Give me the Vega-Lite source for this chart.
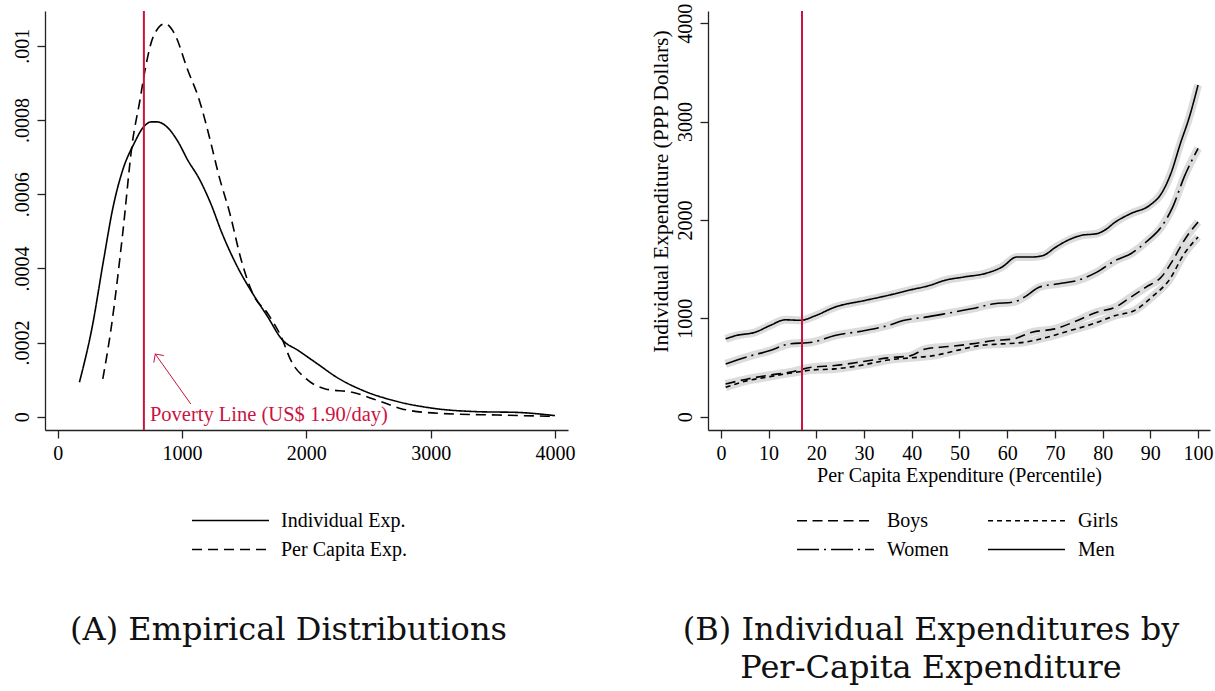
{
  "$schema": "https://vega.github.io/schema/vega-lite/v6.json",
  "background": "white",
  "padding": {"left": 12, "top": 3, "right": 5, "bottom": 5},
  "spacing": 75,
  "resolve": {
    "scale": {"strokeDash": "independent", "strokeWidth": "independent"},
    "legend": {"strokeDash": "independent", "strokeWidth": "independent"}
  },
  "config": {
    "view": {"stroke": null},
    "font": "Liberation Serif",
    "axis": {
      "grid": false, "domainColor": "#222", "tickColor": "#222", "domainWidth": 1.3, "tickWidth": 1.3,
      "tickSize": 8, "labelFont": "Liberation Serif", "labelFontSize": 20, "labelColor": "#000",
      "titleFont": "Liberation Serif", "titleFontSize": 20, "titleFontWeight": "normal", "titleColor": "#000",
      "labelPadding": 5, "labelFlush": false, "labelOverlap": false
    },
    "legend": {"labelFont": "Liberation Serif", "labelFontSize": 20, "labelColor": "#000", "padding": 0}
  },
  "datasets": {
    "dens": [
      {"x": 175, "y": 0.000093, "series": "Individual Exp."},
      {"x": 277, "y": 0.000241, "series": "Individual Exp."},
      {"x": 369, "y": 0.000422, "series": "Individual Exp."},
      {"x": 446, "y": 0.000566, "series": "Individual Exp."},
      {"x": 523, "y": 0.000665, "series": "Individual Exp."},
      {"x": 615, "y": 0.000737, "series": "Individual Exp."},
      {"x": 692, "y": 0.000782, "series": "Individual Exp."},
      {"x": 754, "y": 0.000795, "series": "Individual Exp."},
      {"x": 800, "y": 0.000795, "series": "Individual Exp."},
      {"x": 892, "y": 0.000777, "series": "Individual Exp."},
      {"x": 969, "y": 0.000741, "series": "Individual Exp."},
      {"x": 1046, "y": 0.000692, "series": "Individual Exp."},
      {"x": 1138, "y": 0.000642, "series": "Individual Exp."},
      {"x": 1231, "y": 0.000575, "series": "Individual Exp."},
      {"x": 1323, "y": 0.000494, "series": "Individual Exp."},
      {"x": 1446, "y": 0.000404, "series": "Individual Exp."},
      {"x": 1569, "y": 0.000332, "series": "Individual Exp."},
      {"x": 1692, "y": 0.000268, "series": "Individual Exp."},
      {"x": 1800, "y": 0.000210, "series": "Individual Exp."},
      {"x": 1938, "y": 0.000178, "series": "Individual Exp."},
      {"x": 2092, "y": 0.000142, "series": "Individual Exp."},
      {"x": 2246, "y": 0.000106, "series": "Individual Exp."},
      {"x": 2461, "y": 0.000070, "series": "Individual Exp."},
      {"x": 2708, "y": 0.000043, "series": "Individual Exp."},
      {"x": 3015, "y": 0.000023, "series": "Individual Exp."},
      {"x": 3385, "y": 0.0000135, "series": "Individual Exp."},
      {"x": 3692, "y": 0.0000117, "series": "Individual Exp."},
      {"x": 4000, "y": 0.000003, "series": "Individual Exp."},
      {"x": 363, "y": 0.000102, "series": "Per Capita Exp."},
      {"x": 431, "y": 0.000241, "series": "Per Capita Exp."},
      {"x": 523, "y": 0.000494, "series": "Per Capita Exp."},
      {"x": 600, "y": 0.000737, "series": "Per Capita Exp."},
      {"x": 662, "y": 0.000854, "series": "Per Capita Exp."},
      {"x": 708, "y": 0.000944, "series": "Per Capita Exp."},
      {"x": 769, "y": 0.001025, "series": "Per Capita Exp."},
      {"x": 862, "y": 0.00106, "series": "Per Capita Exp."},
      {"x": 938, "y": 0.001034, "series": "Per Capita Exp."},
      {"x": 1046, "y": 0.000935, "series": "Per Capita Exp."},
      {"x": 1138, "y": 0.000855, "series": "Per Capita Exp."},
      {"x": 1231, "y": 0.00074, "series": "Per Capita Exp."},
      {"x": 1292, "y": 0.000656, "series": "Per Capita Exp."},
      {"x": 1385, "y": 0.000548, "series": "Per Capita Exp."},
      {"x": 1477, "y": 0.000422, "series": "Per Capita Exp."},
      {"x": 1569, "y": 0.000332, "series": "Per Capita Exp."},
      {"x": 1692, "y": 0.000277, "series": "Per Capita Exp."},
      {"x": 1800, "y": 0.000214, "series": "Per Capita Exp."},
      {"x": 1877, "y": 0.000151, "series": "Per Capita Exp."},
      {"x": 2000, "y": 0.000102, "series": "Per Capita Exp."},
      {"x": 2154, "y": 0.000075, "series": "Per Capita Exp."},
      {"x": 2369, "y": 0.000066, "series": "Per Capita Exp."},
      {"x": 2615, "y": 0.000039, "series": "Per Capita Exp."},
      {"x": 2769, "y": 0.000021, "series": "Per Capita Exp."},
      {"x": 3077, "y": 0.000009, "series": "Per Capita Exp."},
      {"x": 3538, "y": 0.0000045, "series": "Per Capita Exp."},
      {"x": 4000, "y": 0.000001, "series": "Per Capita Exp."}
    ],
    "exp": [
      {"p": 1, "v": 791, "g": "Men"}, {"p": 3.2, "v": 825, "g": "Men"}, {"p": 7.2, "v": 859, "g": "Men"},
      {"p": 10.3, "v": 927, "g": "Men"}, {"p": 13.5, "v": 985, "g": "Men"}, {"p": 16.7, "v": 980, "g": "Men"},
      {"p": 19.9, "v": 1029, "g": "Men"}, {"p": 23.9, "v": 1114, "g": "Men"}, {"p": 30.2, "v": 1182, "g": "Men"},
      {"p": 35, "v": 1233, "g": "Men"}, {"p": 39.8, "v": 1290, "g": "Men"}, {"p": 43.8, "v": 1335, "g": "Men"},
      {"p": 46.9, "v": 1386, "g": "Men"}, {"p": 50.9, "v": 1420, "g": "Men"}, {"p": 55.7, "v": 1460, "g": "Men"},
      {"p": 58.9, "v": 1521, "g": "Men"}, {"p": 62, "v": 1623, "g": "Men"}, {"p": 65.2, "v": 1623, "g": "Men"},
      {"p": 67.6, "v": 1640, "g": "Men"}, {"p": 70, "v": 1718, "g": "Men"}, {"p": 72.4, "v": 1786, "g": "Men"},
      {"p": 75.6, "v": 1844, "g": "Men"}, {"p": 78.8, "v": 1861, "g": "Men"}, {"p": 80.4, "v": 1895, "g": "Men"},
      {"p": 82.7, "v": 1980, "g": "Men"}, {"p": 85.9, "v": 2065, "g": "Men"}, {"p": 89.9, "v": 2150, "g": "Men"},
      {"p": 92.3, "v": 2268, "g": "Men"}, {"p": 94.3, "v": 2472, "g": "Men"}, {"p": 96.3, "v": 2778, "g": "Men"},
      {"p": 98.2, "v": 3050, "g": "Men"}, {"p": 100, "v": 3372, "g": "Men"},
      {"p": 1, "v": 537, "g": "Women"}, {"p": 6.4, "v": 621, "g": "Women"}, {"p": 10.3, "v": 672, "g": "Women"},
      {"p": 14.3, "v": 740, "g": "Women"}, {"p": 19.1, "v": 757, "g": "Women"}, {"p": 23.9, "v": 825, "g": "Women"},
      {"p": 30.2, "v": 876, "g": "Women"}, {"p": 35, "v": 927, "g": "Women"}, {"p": 38.2, "v": 978, "g": "Women"},
      {"p": 42.9, "v": 1012, "g": "Women"}, {"p": 46.9, "v": 1046, "g": "Women"}, {"p": 52.5, "v": 1097, "g": "Women"},
      {"p": 57.3, "v": 1148, "g": "Women"}, {"p": 61.3, "v": 1165, "g": "Women"}, {"p": 63.6, "v": 1216, "g": "Women"},
      {"p": 66.8, "v": 1318, "g": "Women"}, {"p": 70.8, "v": 1352, "g": "Women"}, {"p": 74.8, "v": 1386, "g": "Women"},
      {"p": 78.8, "v": 1470, "g": "Women"}, {"p": 82.7, "v": 1589, "g": "Women"}, {"p": 85.9, "v": 1657, "g": "Women"},
      {"p": 89.1, "v": 1776, "g": "Women"}, {"p": 92.3, "v": 1929, "g": "Women"}, {"p": 94.7, "v": 2133, "g": "Women"},
      {"p": 97.1, "v": 2438, "g": "Women"}, {"p": 100, "v": 2727, "g": "Women"},
      {"p": 1, "v": 333, "g": "Boys"}, {"p": 5.6, "v": 384, "g": "Boys"}, {"p": 9.5, "v": 418, "g": "Boys"},
      {"p": 14.3, "v": 452, "g": "Boys"}, {"p": 19.1, "v": 503, "g": "Boys"}, {"p": 23.9, "v": 520, "g": "Boys"},
      {"p": 30.2, "v": 564, "g": "Boys"}, {"p": 35, "v": 598, "g": "Boys"}, {"p": 39.8, "v": 621, "g": "Boys"},
      {"p": 42.9, "v": 689, "g": "Boys"}, {"p": 47.7, "v": 713, "g": "Boys"}, {"p": 52.5, "v": 740, "g": "Boys"},
      {"p": 57.3, "v": 774, "g": "Boys"}, {"p": 61.3, "v": 791, "g": "Boys"}, {"p": 65.2, "v": 859, "g": "Boys"},
      {"p": 70, "v": 893, "g": "Boys"}, {"p": 73.9, "v": 961, "g": "Boys"}, {"p": 78.8, "v": 1063, "g": "Boys"},
      {"p": 82.7, "v": 1114, "g": "Boys"}, {"p": 85.9, "v": 1216, "g": "Boys"}, {"p": 89.1, "v": 1318, "g": "Boys"},
      {"p": 92.3, "v": 1420, "g": "Boys"}, {"p": 94.7, "v": 1589, "g": "Boys"}, {"p": 97.1, "v": 1793, "g": "Boys"},
      {"p": 100, "v": 1980, "g": "Boys"},
      {"p": 1, "v": 299, "g": "Girls"}, {"p": 5.6, "v": 367, "g": "Girls"}, {"p": 9.5, "v": 401, "g": "Girls"},
      {"p": 14.3, "v": 441, "g": "Girls"}, {"p": 19.1, "v": 475, "g": "Girls"}, {"p": 23.9, "v": 486, "g": "Girls"},
      {"p": 30.2, "v": 530, "g": "Girls"}, {"p": 35, "v": 577, "g": "Girls"}, {"p": 39.8, "v": 598, "g": "Girls"},
      {"p": 44.6, "v": 621, "g": "Girls"}, {"p": 49.3, "v": 672, "g": "Girls"}, {"p": 54.1, "v": 723, "g": "Girls"},
      {"p": 58.9, "v": 740, "g": "Girls"}, {"p": 63.6, "v": 757, "g": "Girls"}, {"p": 68.4, "v": 808, "g": "Girls"},
      {"p": 73.2, "v": 876, "g": "Girls"}, {"p": 78, "v": 944, "g": "Girls"}, {"p": 82.7, "v": 1029, "g": "Girls"},
      {"p": 86.7, "v": 1080, "g": "Girls"}, {"p": 90.7, "v": 1233, "g": "Girls"}, {"p": 93.9, "v": 1386, "g": "Girls"},
      {"p": 97.1, "v": 1657, "g": "Girls"}, {"p": 100, "v": 1827, "g": "Girls"}
    ]
  },
  "hconcat": [
    {
      "width": 523,
      "height": 419,
      "title": {"text": "(A) Empirical Distributions", "orient": "bottom", "font": "DejaVu Serif", "fontSize": 32, "fontWeight": "normal", "color": "#111", "anchor": "middle", "frame": "group", "dx": -18, "offset": 55},
      "layer": [
        {
          "data": {"name": "dens"},
          "mark": {"type": "line", "interpolate": "monotone", "color": "black", "strokeWidth": 1.6},
          "encoding": {
            "x": {"field": "x", "type": "quantitative", "scale": {"domain": [-102, 4105], "nice": false, "zero": false},
                  "axis": {"values": [0, 1000, 2000, 3000, 4000], "format": "d", "title": null}},
            "y": {"field": "y", "type": "quantitative", "scale": {"domain": [-0.0000358, 0.001094], "nice": false, "zero": false},
                  "axis": {"values": [0, 0.0002, 0.0004, 0.0006, 0.0008, 0.001], "labelAngle": -90, "title": null,
                           "labelExpr": "datum.value == 0 ? '0' : substring(format(datum.value, '.4~f'), 1)"}},
            "strokeDash": {"field": "series", "type": "nominal",
              "scale": {"domain": ["Individual Exp.", "Per Capita Exp."], "range": [[1, 0], [10, 6]]},
              "legend": {"orient": "none", "legendX": 175, "legendY": 499, "title": null, "symbolType": "M -4 0 L 4 0",
                         "symbolSize": 370, "symbolStrokeColor": "black", "symbolStrokeWidth": 1.6,
                         "labelOffset": 40, "rowPadding": 8}}
          }
        },
        {
          "data": {"values": [{"x": 693.5}]},
          "mark": {"type": "rule", "color": "#cc1241", "strokeWidth": 2},
          "encoding": {"x": {"field": "x", "type": "quantitative"}}
        },
        {
          "data": {"values": [{"x": 1071, "y": 0.0000342, "x2": 785, "y2": 0.000169}]},
          "mark": {"type": "rule", "color": "#cc1241", "strokeWidth": 1},
          "encoding": {
            "x": {"field": "x", "type": "quantitative"}, "y": {"field": "y", "type": "quantitative"},
            "x2": {"field": "x2"}, "y2": {"field": "y2"}
          }
        },
        {
          "data": {"values": [{"x": 785, "y": 0.000169}]},
          "mark": {"type": "point", "shape": "M -1 1 L 0 0 L 1 1", "filled": false, "stroke": "#cc1241", "strokeWidth": 1, "size": 150, "angle": 325, "opacity": 1},
          "encoding": {"x": {"field": "x", "type": "quantitative"}, "y": {"field": "y", "type": "quantitative"}}
        },
        {
          "data": {"values": [{"x": 742, "y": -0.0000108, "label": "Poverty Line (US$ 1.90/day)"}]},
          "mark": {"type": "text", "align": "left", "baseline": "alphabetic", "color": "#cc1241", "font": "Liberation Serif", "fontSize": 20.5},
          "encoding": {"x": {"field": "x", "type": "quantitative"}, "y": {"field": "y", "type": "quantitative"}, "text": {"field": "label"}}
        }
      ]
    },
    {
      "width": 502,
      "height": 419,
      "title": {"text": ["(B) Individual Expenditures by", "Per-Capita Expenditure"], "orient": "bottom", "font": "DejaVu Serif", "fontSize": 32, "lineHeight": 38, "fontWeight": "normal", "color": "#111", "anchor": "middle", "frame": "group", "dx": -28, "offset": 55},
      "layer": [
        {
          "data": {"name": "exp"},
          "mark": {"type": "line", "interpolate": "monotone", "color": "#dcdcdc", "strokeWidth": 8},
          "encoding": {
            "x": {"field": "p", "type": "quantitative", "scale": {"domain": [-2.7, 102.5], "nice": false, "zero": false},
                  "axis": {"values": [0, 10, 20, 30, 40, 50, 60, 70, 80, 90, 100], "title": "Per Capita Expenditure (Percentile)", "titlePadding": 2}},
            "y": {"field": "v", "type": "quantitative", "scale": {"domain": [-135, 4124], "nice": false, "zero": false},
                  "axis": {"values": [0, 1000, 2000, 3000, 4000], "labelAngle": -90, "format": "d",
                           "title": "Individual Expenditure (PPP Dollars)", "titleFontSize": 21.5, "titlePadding": 3, "titleY": 180}},
            "detail": {"field": "g", "type": "nominal"}
          }
        },
        {
          "data": {"name": "exp"},
          "mark": {"type": "line", "interpolate": "monotone", "color": "black"},
          "encoding": {
            "x": {"field": "p", "type": "quantitative"},
            "y": {"field": "v", "type": "quantitative"},
            "strokeDash": {"field": "g", "type": "nominal",
              "scale": {"domain": ["Boys", "Women", "Girls", "Men"], "range": [[10, 5.5], [22, 5, 2, 5], [5, 4], [1, 0]]},
              "legend": {"orient": "none", "legendX": 117, "legendY": 499, "title": null, "symbolType": "M -4 0 L 4 0", "columns": 2,
                         "columnPadding": 35, "symbolSize": 370, "symbolStrokeColor": "black",
                         "labelOffset": 41, "rowPadding": 8}},
            "strokeWidth": {"field": "g", "type": "nominal",
              "scale": {"domain": ["Boys", "Women", "Girls", "Men"], "range": [1.6, 1.6, 1.6, 3]},
              "legend": {"orient": "none", "legendX": 117, "legendY": 499, "title": null, "symbolType": "M -4 0 L 4 0", "columns": 2,
                         "columnPadding": 35, "symbolSize": 370, "symbolStrokeColor": "black",
                         "labelOffset": 41, "rowPadding": 8}}
          }
        },
        {
          "data": {"values": [{"p": 17}]},
          "mark": {"type": "rule", "color": "#cc1241", "strokeWidth": 2},
          "encoding": {"x": {"field": "p", "type": "quantitative"}}
        }
      ]
    }
  ]
}
